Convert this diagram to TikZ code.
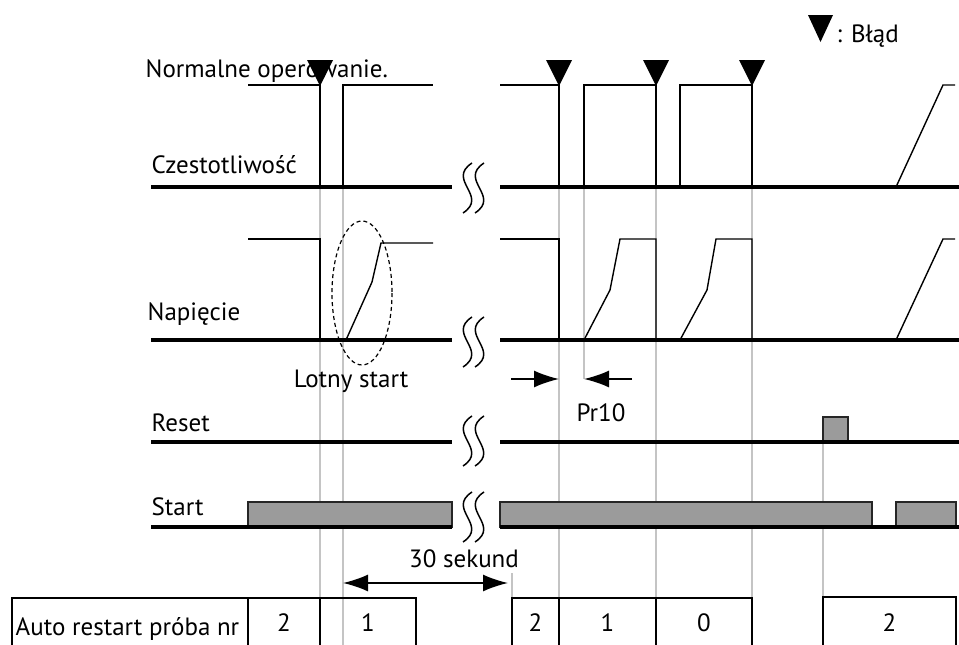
\documentclass[tikz,border=0pt]{standalone}
\usepackage{fontspec}
\setmainfont{PT Sans}
\usetikzlibrary{arrows.meta,calc,positioning}
\definecolor{GuideGray}{HTML}{C4C4C4}
\definecolor{BarGray}{HTML}{9B9B9B}

\begin{document}
\begin{tikzpicture}[x=1pt,y=-1pt,font=\fontsize{25}{29}\selectfont,
 line width=1.4pt,>={Latex[length=25pt,width=17pt]},every node/.style={inner sep=0pt},
 sig/.style={line width=1.4pt},
 base/.style={line width=4pt},
 guide/.style={GuideGray,line width=1.5pt},
 bar/.style={fill=BarGray,draw=black!85,line width=1.2pt},
 brk/.style={line width=1.5pt},
 cell/.style={draw,line width=1.4pt},
 lbl/.style={anchor=base west}]
\useasboundingbox (0,0) rectangle (959,645);
\foreach \x/\a/\b in {320/187/645,343/187/645,559/187/598,584/187/379,656/187/598,752/187/598,823/442/598,512/573/598}
 \draw[guide] (\x,\a)--(\x,\b);
\node[lbl] (normal) at (145,77) {Normalne operowanie.};
\node[lbl] (freq) at (151,173) {Czestotliwość};
\node[lbl] (volt) at (147,320) {Napięcie};
\node[anchor=base] (flying) at (351,387) {Lotny start};
\node[anchor=base] (pr) at (601,421) {Pr10};
\node[lbl] (reset) at (151,431) {Reset};
\node[lbl] (start) at (151,515) {Start};
\node[anchor=base] (wait) at (464,567) {30 sekund};
\node[lbl] (tries) at (15,635) {Auto restart próba nr};
\node[lbl] (legend) at (836,42) {: Błąd};
\draw[sig] (248,85)-|(320,187);
\draw[sig] (343,187)|-(433,85);
\draw[sig] (500,85)-|(559,187);
\draw[sig] (584,187)|-(656,85)--(656,187);
\draw[sig] (680,187)|-(752,85)--(752,187);
\draw[sig] (896,187)--(943,85)--(955,85);
\draw[sig] (248,239)-|(320,340);
\draw[sig] (346,340)--(372,282)--(381,243)--(433,243);
\draw[sig] (500,239)-|(559,340);
\draw[sig] (584,340)--(610,290)--(620,239)-|(656,340);
\draw[sig] (680,340)--(707,290)--(716,239)-|(752,340);
\draw[sig] (896,340)--(943,239)--(955,239);
\draw[line width=1.2pt,dash pattern=on 4pt off 3pt] (362,293) ellipse [x radius=30,y radius=72];
\foreach \x in {320,559,656,752}
 \fill (\x-13,60)--(\x+13,60)--(\x,86)--cycle;
\fill (808,15)--(833,15)--(820.5,42)--cycle;
\draw[bar] (823,417) rectangle (848,442);
\draw[bar] (248,502) rectangle (452,527);
\draw[bar] (500,502) rectangle (872,527);
\draw[bar] (896,502) rectangle (956,527);
\foreach \y in {187,340,442,527}{
 \draw[base] (151,\y)--(452,\y);
 \draw[base] (500,\y)--(959,\y);}
\foreach \y in {188,342,441,517}
 \foreach \dx in {0,12}
  \draw[brk,shift={(463+\dx,\y)}] (9,-25) .. controls (-17,-8) and (26,8) .. (0,25);
\coordinate (p1) at (511,379);
\coordinate (p2) at (559,379);
\coordinate (p3) at (632,379);
\coordinate (p4) at (584,379);
\draw[->,line width=1.6pt] (p1)--(p2);
\draw[->,line width=1.6pt] (p3)--(p4);
\coordinate (w1) at (343,583);
\coordinate (w2) at (508,583);
\draw[<->,line width=1.6pt] (w1)--(w2);
\draw[cell] (12,645)|-(416,598)--(416,645);
\draw[cell] (248,598)--(248,645) (320,598)--(320,645);
\draw[cell] (512,645)|-(752,598)--(752,645);
\draw[cell] (559,598)--(559,645) (656,598)--(656,645);
\draw[cell] (823,645)|-(956,597)--(956,645);
\foreach \x/\n [count=\i] in {284/2,368/1,535.5/2,607.5/1,704/0,889.5/2}
 \node (n\i) at (\x,623) {\n};
\end{tikzpicture}
\end{document}
